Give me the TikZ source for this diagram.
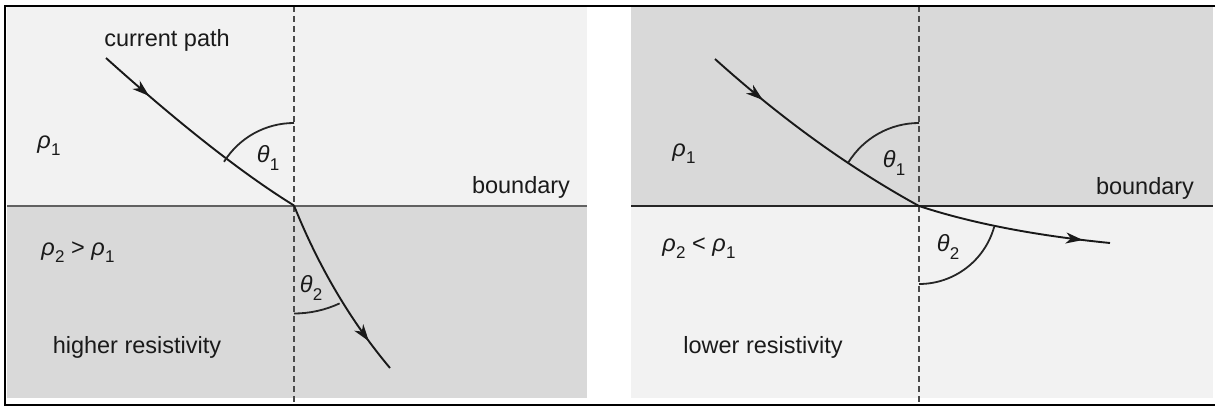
\documentclass[tikz,border=0pt]{standalone}
\usepackage{fontspec}
\setmainfont{Liberation Sans}
\usetikzlibrary{arrows.meta,decorations.markings}
\definecolor{lightfill}{HTML}{F2F2F2}
\definecolor{darkfill}{HTML}{D9D9D9}
\definecolor{dashgray}{HTML}{4A4A4A}
\definecolor{txt}{HTML}{1A1A1A}
\newcommand{\gsub}[2]{\textit{#1}\kern0.3pt\raisebox{-0.3em}{\fontsize{17}{17}\selectfont #2}}
\begin{document}
\begin{tikzpicture}[x=1pt,y=1pt,
  lbl/.style={font=\fontsize{23.5}{26}\selectfont, inner sep=0pt, text=txt},
  ray/.style={line width=1.9pt, draw=black!90},
  anglearc/.style={line width=1.8pt, draw=black!85},
  normal/.style={line width=2pt, draw=dashgray, dash pattern=on 6pt off 4pt},
  frameline/.style={line width=2.6pt, draw=black},
  midarrow/.style={postaction={decorate}, decoration={markings,
     mark=at position #1 with {\arrow{Stealth[length=17pt,width=11pt,inset=5pt]}}}}
]
\useasboundingbox (0,0) rectangle (1217,408);

% ---------- left panel ----------
\fill[lightfill] (7,402) rectangle (587,202.5);
\fill[darkfill] (7,202.5) rectangle (587,10);
\coordinate (LbL) at (7,202.5);
\coordinate (LbR) at (587,202.5);
\draw[line width=2pt, draw=black!62] (LbL) -- (LbR);
\coordinate (LnT) at (294,402);
\coordinate (LnB) at (294,3);
\draw[normal] (LnT) -- (LnB);

\coordinate (O1) at (294,202.5);
\coordinate (L0) at (106,350);
\coordinate (L2) at (390,40);
\draw[ray, midarrow=0.24] (L0) .. controls (179.8,283.6) and (242.5,234.4) .. (O1);
\draw[ray, midarrow=0.82] (O1) .. controls (318.8,140.8) and (350.8,86.7) .. (L2);

\coordinate (La1) at (294,285);
\coordinate (La2) at (294,94.5);
\draw[anglearc] (La1) arc[start angle=90, end angle=148, radius=82.5];
\draw[anglearc] (La2) arc[start angle=-90, end angle=-65, radius=108];

\node[lbl] (cp) at (167,368) {current path};
\node[lbl] (lr1) at (49,262) {\gsub{ρ}{1}};
\node[lbl] (lt1) at (268,250) {\gsub{θ}{1}};
\node[lbl] (lbd) at (521,221) {boundary};
\node[lbl] (lr2) at (78,156) {\gsub{ρ}{2} > \gsub{ρ}{1}};
\node[lbl] (lt2) at (311,120) {\gsub{θ}{2}};
\node[lbl] (hr) at (137,61) {higher resistivity};

% ---------- right panel ----------
\fill[darkfill] (631,402) rectangle (1213,202);
\fill[lightfill] (631,202) rectangle (1213,10);
\coordinate (RbL) at (631,202);
\coordinate (RbR) at (1213,202);
\draw[line width=2pt, draw=black!85] (RbL) -- (RbR);
\coordinate (RnT) at (919,402);
\coordinate (RnB) at (919,3);
\draw[normal] (RnT) -- (RnB);

\coordinate (O2) at (919,202);
\coordinate (R0) at (715,349);
\coordinate (R2) at (1110,165);
\draw[ray, midarrow=0.25] (R0) .. controls (781.3,289.3) and (849.3,240.3) .. (O2);
\draw[ray, midarrow=0.86] (O2) .. controls (971,184.9) and (1034.7,172.5) .. (R2);

\coordinate (Ra1) at (919,285);
\coordinate (Ra2) at (919,124);
\draw[anglearc] (Ra1) arc[start angle=90, end angle=148.4, radius=83];
\draw[anglearc] (Ra2) arc[start angle=-90, end angle=-15.5, radius=78];

\node[lbl] (rr1) at (684,254) {\gsub{ρ}{1}};
\node[lbl] (rt1) at (894,245) {\gsub{θ}{1}};
\node[lbl] (rbd) at (1145,220) {boundary};
\node[lbl] (rr2) at (699,160) {\gsub{ρ}{2} < \gsub{ρ}{1}};
\node[lbl] (rt2) at (948,161) {\gsub{θ}{2}};
\node[lbl] (lrs) at (763,61) {lower resistivity};

% ---------- frame ----------
\coordinate (FtL) at (5,402);
\coordinate (FtR) at (1215,402);
\coordinate (FbL) at (5,3);
\coordinate (FbR) at (1215,3);
\draw[frameline] (FtR) -- (FtL) -- (FbL) -- (FbR);
\end{tikzpicture}
\end{document}
